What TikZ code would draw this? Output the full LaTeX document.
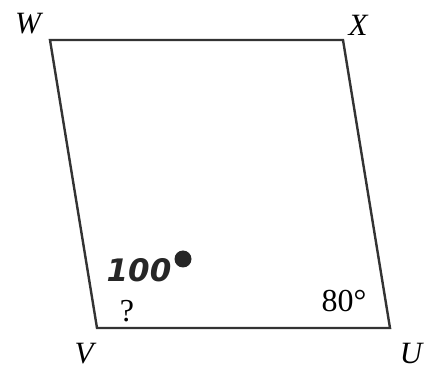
\documentclass[tikz,border=0pt]{standalone}
\usepackage{fontspec}
\setmainfont{Liberation Serif}
\newfontfamily\handfont{DejaVu Sans}
\begin{document}
\begin{tikzpicture}[x=1pt,y=-1pt,
  edge/.style={draw=black!80, line width=2.4pt, line join=miter},
  vlabel/.style={font=\fontsize{31}{33}\selectfont\itshape, inner sep=0pt},
  angle/.style={font=\fontsize{32}{34}\selectfont, inner sep=0pt},
  hand/.style={font=\handfont\bfseries\itshape\fontsize{31}{33}\selectfont, text=black!85, inner sep=0pt}]
\useasboundingbox (0,0) rectangle (424,374);
\coordinate (W) at (50,40);
\coordinate (X) at (343,40);
\coordinate (U) at (390,328);
\coordinate (V) at (97,328);
\draw[edge] (W) -- (X) -- (U) -- (V) -- cycle;
\node[vlabel] (lw) at (28,24) {W};
\node[vlabel] (lx) at (358,25) {X};
\node[vlabel] (lv) at (84,354) {V};
\node[vlabel] (lu) at (411,354) {U};
\node[angle] (q) at (127,311) {?};
\node[angle] (a80) at (344,301) {80°};
\node[hand] (a100) at (139,270) {100};
\fill[black!85] (183,259) circle (8.5);
\end{tikzpicture}
\end{document}
